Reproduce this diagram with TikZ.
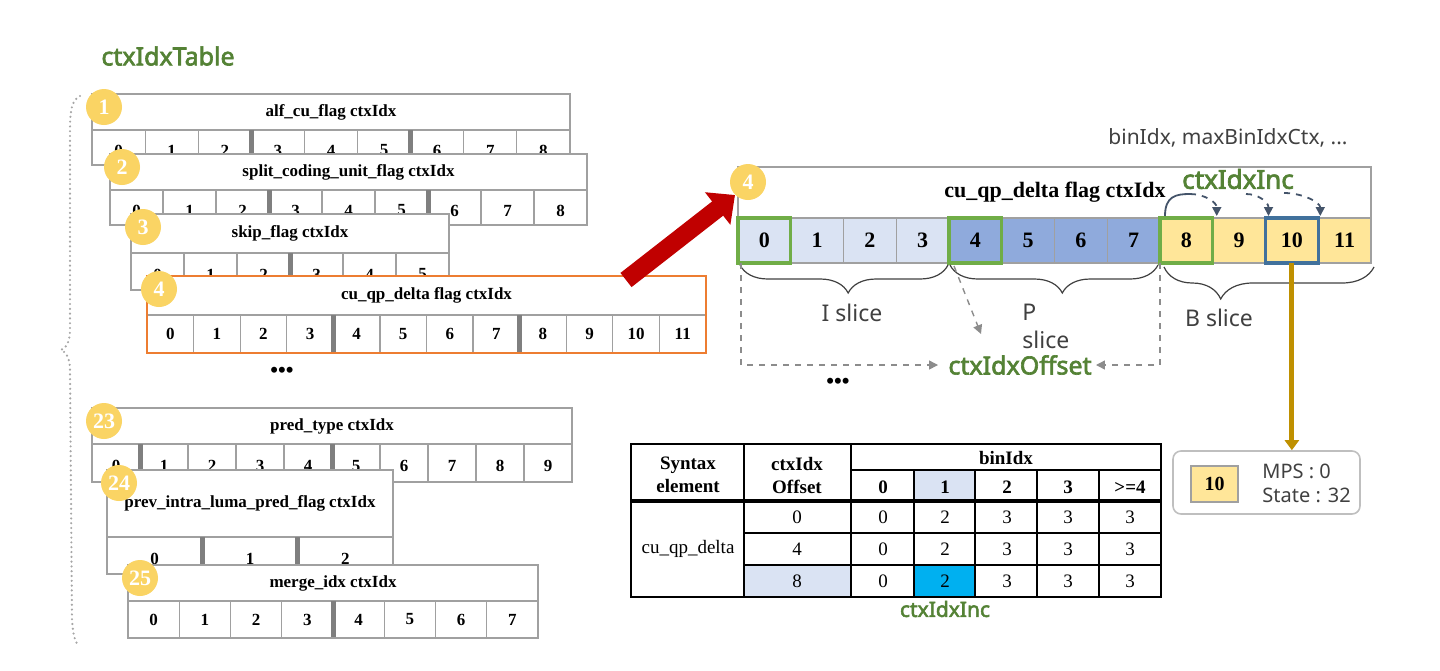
\documentclass[tikz,border=0pt]{standalone}
\usepackage{fontspec}
\setmainfont{Liberation Serif}
\newfontfamily\sansf{Noto Sans}
\newfontfamily\sansb[FakeBold=2.6]{Noto Sans}
\usetikzlibrary{arrows.meta,decorations.pathreplacing,calc}
\definecolor{tgray}{HTML}{A0A0A0}
\definecolor{sepgray}{HTML}{7F7F7F}
\definecolor{corange}{HTML}{ED7D31}
\definecolor{cgreen}{HTML}{548235}
\definecolor{gbox}{HTML}{70AD47}
\definecolor{bbox}{HTML}{41719C}
\definecolor{lb}{HTML}{DAE3F3}
\definecolor{mb}{HTML}{8FAADC}
\definecolor{ylw}{HTML}{FFE699}
\definecolor{cred}{HTML}{C00000}
\definecolor{cgold}{HTML}{BF9000}
\definecolor{incol}{HTML}{44546A}
\definecolor{txtgray}{HTML}{404040}
\definecolor{dashgray}{HTML}{8C8C8C}
\definecolor{ccyan}{HTML}{00B0F0}
\definecolor{badgeY}{RGB}{250,212,100}
\definecolor{boxgray}{HTML}{BFBFBF}

\newcommand\ltab[9]{%
  \pgfmathsetmacro\cw{(#4-#2)/#7}%
  \draw[tabline,fill=white] (#2,#3) rectangle (#4,#6);
  \draw[tabline] (#2,#5) -- (#4,#5);
  \foreach \k in {1,...,#7}{%
    \pgfmathsetmacro\xx{#2+\k*\cw}%
    \draw[tabline] (\xx,#5) -- (\xx,#6);
    \pgfmathtruncatemacro\dd{\k-1}%
    \node[dig] (t#1d\dd) at ({#2+(\k-0.5)*\cw},{(#5+#6)/2+\dshift}) {\dd};
  }
  \foreach \k in {#8}{\draw[thicksep] ({#2+\k*\cw},#5) -- ({#2+\k*\cw},#6);}
  \draw[curframe] (#2,#3) rectangle (#4,#6);
  \node[ttl] (t#1h) at ({(#2+#4)/2},{(#3+#5)/2}) {#9};
  \node[badge] (b#1) at ({#2+12},{#3+13}) {#1};
}
\def\dshift{0}

\begin{document}
\begin{tikzpicture}[x=0.5pt,y=-0.5pt,
  tabline/.style={draw=tgray,line width=0.6pt},
  curframe/.style={tabline},
  thicksep/.style={draw=sepgray,line width=2.5pt},
  ttl/.style={font=\bfseries\fontsize{8.5}{10}\selectfont,inner sep=0},
  dig/.style={font=\bfseries\fontsize{8.5}{10}\selectfont,inner sep=0},
  badge/.style={circle,fill=badgeY,text=white,minimum size=18pt,inner sep=0,font=\bfseries\fontsize{11}{11}\selectfont},
  rcell/.style={draw=tgray,line width=0.6pt,minimum width=26.375pt,minimum height=22.5pt,inner sep=0,outer sep=0,font=\bfseries\fontsize{11}{11}\selectfont},
  hibox/.style={line width=1.6pt},
  slicebrace/.style={draw=txtgray,line width=0.6pt,decorate},
  slicelbl/.style={font=\sansf\fontsize{11.5}{14}\selectfont,text=txtgray,inner sep=0},
  greentxt/.style={font=\sansb\fontsize{12.5}{14}\selectfont,text=cgreen,inner sep=0},
  dasharrow/.style={draw=dashgray,line width=0.7pt,dashed,-{Triangle[width=4.5pt,length=4.5pt]}},
  incline/.style={draw=incol,line width=0.9pt},
  inctip/.style={-{Triangle[width=4.5pt,length=4.5pt]}},
  tbl/.style={draw=black,line width=0.7pt},
  thd/.style={font=\bfseries\fontsize{9.5}{11.5}\selectfont,inner sep=0,align=center},
  tbd/.style={font=\fontsize{9.5}{11}\selectfont,inner sep=0},
  dotsty/.style={font=\bfseries\fontsize{11}{11}\selectfont,inner sep=0}
]
\useasboundingbox (0,0) rectangle (1440,670);

% ---------- title ----------
\node[greentxt] (title) at (168,56) {ctxIdxTable};

% ---------- left dotted brace ----------
\draw[draw=gray!70,line width=1.2pt,line cap=round,dash pattern=on 0pt off 2.4pt]
  (80,96) .. controls (72,100) and (70,110) .. (70,130) -- (70,330)
  .. controls (70,342) and (66,348) .. (61,350)
  .. controls (66,352) and (70,358) .. (70,370) -- (72,620)
  .. controls (73,635) and (75,642) .. (79,646);

% ---------- left tables ----------
\def\dshift{3}
\ltab{1}{92}{94}{570}{130}{165}{9}{3,6}{alf\_cu\_flag ctxIdx}
\ltab{2}{110}{154}{587}{190}{225}{9}{3,6}{split\_coding\_unit\_flag ctxIdx}
\ltab{3}{131}{214}{449}{253}{290}{6}{3}{skip\_flag ctxIdx}
\def\dshift{0}
\tikzset{curframe/.style={draw=corange,line width=1pt}}
\ltab{4}{147}{276}{706}{315}{353}{12}{4,8}{cu\_qp\_delta flag ctxIdx}
\tikzset{curframe/.style={tabline}}
\node[dotsty] (dots1) at (282,372) {\textbullet\textbullet\textbullet};
\def\dshift{3}
\ltab{23}{92}{408}{572}{444}{482}{10}{1,5}{pred\_type ctxIdx}
\ltab{24}{107}{470}{393}{537}{574}{3}{1,2}{prev\_intra\_luma\_pred\_flag ctxIdx}
\def\dshift{0}
\ltab{25}{128}{565}{538}{601}{638}{8}{4}{merge\_idx ctxIdx}

% ---------- right: ctxIdx row ----------
\node[font=\sansf\fontsize{10.5}{12}\selectfont,text=txtgray,anchor=east,inner sep=0] (bintxt) at (1348,138) {binIdx, maxBinIdxCtx, ...};
\draw[tabline] (738,167) rectangle (1371,263);
\foreach \i/\col in {0/lb,1/lb,2/lb,3/lb,4/mb,5/mb,6/mb,7/mb,8/ylw,9/ylw,10/ylw,11/ylw}{
  \node[rcell,fill=\col] (c\i) at ({738+52.75*(\i+0.5)},240.5) {\i};
}
\foreach \i in {0,4,8}{\draw[hibox,draw=gbox] (c\i.south west) rectangle (c\i.north east);}
\draw[hibox,draw=bbox] (c10.south west) rectangle (c10.north east);
\node[font=\bfseries\fontsize{11}{12}\selectfont,inner sep=0] (rh) at (1055,192) {cu\_qp\_delta flag ctxIdx};
\node[badge] (b4R) at (748,182) {4};

% ctxIdxInc label and arcs
\node[greentxt,font=\sansb\fontsize{13}{14}\selectfont] (inc1) at (1238,179) {ctxIdxInc};
\coordinate (a0) at ($(c8.north west)+(5,-2)$);
\coordinate (a1) at ($(c9.north west)+(4,-2)$);
\coordinate (a2) at ($(c10.north west)+(3,-2)$);
\coordinate (a3) at ($(c11.north west)+(2,-2)$);
\coordinate (m0) at (1190,194);
\coordinate (s2) at (1246,194);
\coordinate (s3) at (1284,193);
\draw[incline] (a0) .. controls +(0,-20) and +(-14,0) .. (m0);
\draw[incline,dashed,inctip] (m0) .. controls +(14,0) and +(0,-14) .. (a1);
\draw[incline,dashed,inctip] (s2) .. controls +(12,0) and +(0,-14) .. (a2);
\draw[incline,dashed,inctip] (s3) .. controls +(18,0) and +(0,-14) .. (a3);

% braces
\draw[slicebrace,decoration={brace,mirror,amplitude=14pt,aspect=0.52}] (740,265) -- (948,265);
\draw[slicebrace,decoration={brace,mirror,amplitude=14pt,aspect=0.54}] (950,265) -- (1158,265);
\draw[slicebrace,decoration={brace,mirror,amplitude=16pt,aspect=0.27}] (1164,267) -- (1374,267);
\node[slicelbl] (lI) at (852,313) {I slice};
\node[slicelbl,anchor=west,align=left] (lP) at (1022,326) {P\\slice};
\node[slicelbl] (lB) at (1219,318) {B slice};

% ctxIdxOffset
\node[greentxt] (off) at (1020,365) {ctxIdxOffset};
\draw[dasharrow] (c0.south west) ++(3,0) |- ($(off.west)+(-10,0)$);
\draw[dasharrow] (c8.south west) |- ($(off.east)+(4,0)$);
\coordinate (dg) at (981,334);
\draw[dasharrow] ($(c4.south west)+(5,3)$) -- (dg);
\node[dotsty] (dots2) at (838,383) {\textbullet\textbullet\textbullet};

% red arrow
\coordinate (rs) at (626,280);
\draw[cred,line width=9pt,-{Triangle[width=20pt,length=11pt]}] (rs) -- (b4R.south west);

% gold arrow and state box
\node[draw=boxgray,line width=0.8pt,rounded corners=4pt,minimum width=93.5pt,minimum height=31.5pt,inner sep=0] (mps) at (1266.5,482.5) {};
\draw[cgold,line width=2.5pt,-{Triangle[width=7pt,length=5pt]}] (c10.south) -- (c10.south |- mps.north);
\node[draw=tgray,fill=ylw,line width=0.6pt,minimum width=23.5pt,minimum height=18pt,inner sep=0,font=\bfseries\fontsize{10}{10}\selectfont] (m10) at (1214.5,484) {10};
\node[anchor=west,align=left,font=\sansf\fontsize{10}{12}\selectfont,text=txtgray,inner sep=0] (mpst) at (1262,483) {MPS : 0\\State : 32};

% ---------- bottom table ----------
\fill[lb] (914,470) rectangle (975,501);
\fill[lb] (744,565) rectangle (851,597);
\fill[ccyan] (914,565) rectangle (975,597);
\draw[tbl] (744,444) -- (744,597);
\draw[tbl] (851,444) -- (851,597);
\foreach \xx in {914,975,1037,1099}{\draw[tbl] (\xx,470) -- (\xx,597);}
\draw[tbl] (851,470) -- (1161,470);
\draw[tbl] (744,533) -- (1161,533);
\draw[tbl] (744,565) -- (1161,565);
\draw[black,line width=2pt] (631,501) -- (1161,501);
\draw[black,line width=1.1pt] (631,444) rectangle (1161,597);
\node[thd] (hSyn) at (688,475) {Syntax\\element};
\node[thd] (hOff) at (797,475) {ctxIdx\\Offset};
\node[thd] (hBin) at (1006,458) {binIdx};
\foreach \xx/\t [count=\n] in {883/0,945/1,1007/2,1068/3,1130/{>=4}}{\node[thd] (hb\n) at (\xx,487) {\t};}
\node[tbd] (syn) at (688,549) {cu\_qp\_delta};
\foreach \yy/\o [count=\r] in {517/0,549/4,581/8}{
  \node[tbd] (o\r) at (797,\yy) {\o};
  \foreach \xx/\v [count=\n] in {883/0,945/2,1007/3,1068/3,1130/3}{\node[tbd] (v\r\n) at (\xx,\yy) {\v};}
}
\node[greentxt,font=\sansb\fontsize{10.5}{12}\selectfont] (inc2) at (945,609) {ctxIdxInc};
\end{tikzpicture}
\end{document}
